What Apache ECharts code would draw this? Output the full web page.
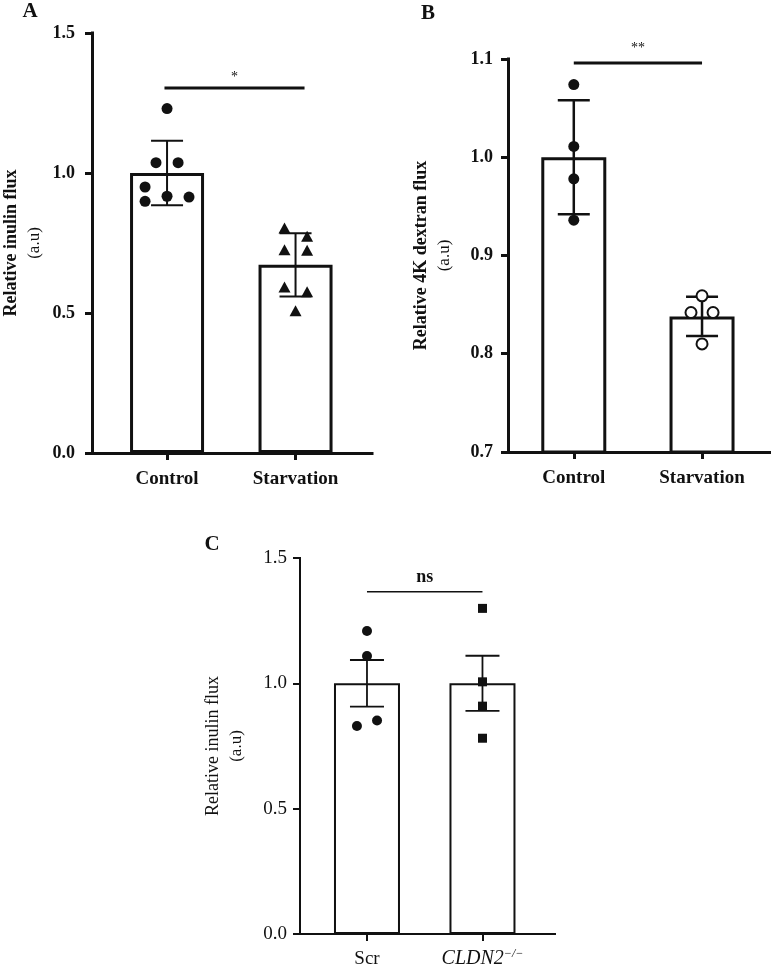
<!DOCTYPE html>
<html>
<head>
<meta charset="utf-8">
<script src="https://cdn.jsdelivr.net/npm/echarts@6/dist/echarts.min.js"></script>
<style>
html,body{margin:0;padding:0;background:#fff;}
#chart{width:771px;height:970px;}
</style>
</head>
<body>
<div id="chart"></div>
<script>
// ---------- DATA ----------
const catsAB = ['Control', 'Starvation'];
const catsC = ['Scr', 'CLDN2'];

// Panel A
const aTicks = [0, 1.5, 0.5];            // min, max, interval
const aMeans = [1.0, 0.672];
const aSD = [0.115, 0.113];
const aCtrlVals = [1.23, 1.037, 1.037, 0.95, 0.899, 0.917, 0.914];
const aCtrlJit = [0, -0.086, 0.086, -0.171, -0.171, 0, 0.171];
const aStarVals = [0.804, 0.774, 0.726, 0.724, 0.593, 0.576, 0.508];
const aStarJit = [-0.086, 0.09, -0.086, 0.09, -0.086, 0.09, 0];
const aSig = [0.98, 2.07, 1.304];
const aSigText = '*';

// Panel B
const bTicks = [0.7, 1.1, 0.1];
const bMeans = [1.0, 0.838];
const bSD = [0.058, 0.02];
const bCtrlVals = [1.074, 1.011, 0.978, 0.936];
const bCtrlJit = [0, 0, 0, 0];
const bStarVals = [0.859, 0.842, 0.842, 0.81];
const bStarJit = [0, -0.086, 0.086, 0];
const bSig = [1.0, 2.0, 1.096];
const bSigText = '**';

// Panel C
const cTicks = [0, 1.5, 0.5];
const cMeans = [1.0, 1.0];
const cSEM = [0.093, 0.11];
const cScrVals = [1.209, 1.109, 0.83, 0.852];
const cScrJit = [0, 0, -0.087, 0.087];
const cKoVals = [1.299, 1.006, 0.909, 0.781];
const cKoJit = [0, 0, 0, 0];
const cSig = [1.0, 2.0, 1.365];
const cSigText = 'ns';

// ---------- HELPERS ----------
const FONT = 'Liberation Serif';
const INK = '#111';

function pts(vals, jit, center) {
  return vals.map((v, i) => [center + jit[i], v]);
}
function errData(means, errs) {
  return means.map((m, i) => [i + 1, m - errs[i], m + errs[i]]);
}

function yAxisCfg(gi, ticks, lw, bold, nameGap, size, margin) {
  return {
    type: 'value', gridIndex: gi, min: ticks[0], max: ticks[1], interval: ticks[2],
    axisLine: { show: true, onZero: false, lineStyle: { color: INK, width: lw, cap: 'square' } },
    axisTick: { show: true, length: 7, lineStyle: { color: INK, width: lw } },
    splitLine: { show: false },
    axisLabel: {
      color: INK, fontFamily: FONT, fontSize: size, fontWeight: bold ? 'bold' : 'normal',
      margin: margin, formatter: v => v.toFixed(1)
    },
    name: gi === 1 ? '{a|Relative 4K dextran flux}\n{b|(a.u)}' : '{a|Relative inulin flux}\n{b|(a.u)}',
    nameLocation: 'middle', nameRotate: 90, nameGap: nameGap,
    nameTextStyle: {
      rich: {
        a: { fontFamily: FONT, fontSize: 18, fontWeight: bold ? 'bold' : 'normal', color: INK, lineHeight: 24 },
        b: { fontFamily: FONT, fontSize: 17, fontWeight: 'normal', color: INK, lineHeight: 24 }
      }
    }
  };
}

function xAxisCfg(gi, range, cats, lw, bold, rich, margin) {
  return {
    type: 'value', gridIndex: gi, min: range[0], max: range[1],
    axisLine: { show: true, onZero: false, lineStyle: { color: INK, width: lw, cap: 'square' } },
    axisTick: { show: true, length: 7, customValues: [1, 2], lineStyle: { color: INK, width: lw } },
    splitLine: { show: false },
    axisLabel: {
      customValues: [1, 2], margin: margin,
      color: INK, fontFamily: FONT, fontSize: 19, fontWeight: bold ? 'bold' : 'normal',
      formatter: v => rich ? (v === 1 ? '{n|' + cats[0] + '}' : '{i|' + cats[1] + '}{s|−/−}') : cats[Math.round(v) - 1],
      rich: rich ? {
        n: { fontFamily: FONT, fontSize: 19, color: INK, lineHeight: 22 },
        i: { fontFamily: FONT, fontSize: 20, fontStyle: 'italic', color: INK, lineHeight: 22 },
        s: { fontFamily: FONT, fontSize: 12, fontStyle: 'italic', color: INK, verticalAlign: 'top', lineHeight: 22, padding: [0, 0, 6, 0] }
      } : undefined
    }
  };
}

function barSeries(gi, means, width, lw) {
  return {
    type: 'bar', xAxisIndex: gi, yAxisIndex: gi, barWidth: width, clip: true, z: 2,
    data: means.map((m, i) => [i + 1, m]),
    itemStyle: { color: '#fff', borderColor: INK, borderWidth: lw },
    silent: true
  };
}

function errSeries(gi, data, lw, cap) {
  return {
    type: 'custom', xAxisIndex: gi, yAxisIndex: gi, z: 3, silent: true,
    encode: { x: 0, y: [1, 2] },
    data: data,
    renderItem: (params, api) => {
      const lo = api.coord([api.value(0), api.value(1)]);
      const hi = api.coord([api.value(0), api.value(2)]);
      const st = { stroke: INK, lineWidth: lw };
      return {
        type: 'group', children: [
          { type: 'line', shape: { x1: lo[0], y1: lo[1], x2: hi[0], y2: hi[1] }, style: st },
          { type: 'line', shape: { x1: hi[0] - cap, y1: hi[1], x2: hi[0] + cap, y2: hi[1] }, style: st },
          { type: 'line', shape: { x1: lo[0] - cap, y1: lo[1], x2: lo[0] + cap, y2: lo[1] }, style: st }
        ]
      };
    }
  };
}

function sigSeries(gi, sig, text, lw, fontSize, gap, bold) {
  return {
    type: 'custom', xAxisIndex: gi, yAxisIndex: gi, z: 3, silent: true,
    encode: { x: [0, 1], y: 2 },
    data: [sig],
    renderItem: (params, api) => {
      const a = api.coord([api.value(0), api.value(2)]);
      const b = api.coord([api.value(1), api.value(2)]);
      return {
        type: 'group', children: [
          { type: 'line', shape: { x1: a[0], y1: a[1], x2: b[0], y2: b[1] }, style: { stroke: INK, lineWidth: lw } },
          { type: 'text', x: (a[0] + b[0]) / 2, y: a[1] - gap,
            style: { text: text, fill: INK, fontFamily: FONT, fontSize: fontSize, fontWeight: bold ? 'bold' : 'normal',
                     textAlign: 'center', textVerticalAlign: 'middle' } }
        ]
      };
    }
  };
}

function scatterSeries(gi, data, symbol, size, empty) {
  return {
    type: 'scatter', xAxisIndex: gi, yAxisIndex: gi, z: 4, silent: true,
    symbol: symbol, symbolSize: size, data: data,
    itemStyle: empty ? { color: '#fff', borderColor: INK, borderWidth: 2, opacity: 1 } : { color: INK, opacity: 1 }
  };
}

// ---------- CHART ----------
const chart = echarts.init(document.getElementById('chart'), null, { renderer: 'canvas' });

const option = {
  backgroundColor: '#fff',
  animation: false,
  grid: [
    { left: 92, top: 33, width: 280, height: 420 },
    { left: 508, top: 59, width: 262, height: 393 },
    { left: 300, top: 558, width: 255, height: 376 }
  ],
  xAxis: [
    xAxisCfg(0, [0.416, 2.595], catsAB, 3, true, false, 17),
    xAxisCfg(1, [0.487, 2.53], catsAB, 3, true, false, 17),
    xAxisCfg(2, [0.42, 2.628], catsC, 2, false, true, 14)
  ],
  yAxis: [
    yAxisCfg(0, aTicks, 3, true, 45, 18, 17),
    yAxisCfg(1, bTicks, 3, true, 51, 18, 15),
    yAxisCfg(2, cTicks, 2, false, 51, 19, 13)
  ],
  graphic: [
    { type: 'text', x: 30, y: 12, style: { text: 'A', fill: INK, fontFamily: FONT, fontSize: 21, fontWeight: 'bold', textAlign: 'center', textVerticalAlign: 'middle' } },
    { type: 'text', x: 428, y: 14, style: { text: 'B', fill: INK, fontFamily: FONT, fontSize: 21, fontWeight: 'bold', textAlign: 'center', textVerticalAlign: 'middle' } },
    { type: 'text', x: 212, y: 545, style: { text: 'C', fill: INK, fontFamily: FONT, fontSize: 21, fontWeight: 'bold', textAlign: 'center', textVerticalAlign: 'middle' } }
  ],
  series: [
    // A
    barSeries(0, aMeans, 74, 3),
    errSeries(0, errData(aMeans, aSD), 2, 16),
    scatterSeries(0, pts(aCtrlVals, aCtrlJit, 1), 'circle', 11, false),
    scatterSeries(0, pts(aStarVals, aStarJit, 2), 'triangle', [12, 11], false),
    sigSeries(0, aSig, aSigText, 3, 14, 11, false),
    // B
    barSeries(1, bMeans, 65, 3),
    errSeries(1, errData(bMeans, bSD), 2.5, 16),
    scatterSeries(1, pts(bCtrlVals, bCtrlJit, 1), 'circle', 11, false),
    scatterSeries(1, pts(bStarVals, bStarJit, 2), 'circle', 11, true),
    sigSeries(1, bSig, bSigText, 3, 14, 15, false),
    // C
    barSeries(2, cMeans, 66, 2),
    errSeries(2, errData(cMeans, cSEM), 1.8, 17),
    scatterSeries(2, pts(cScrVals, cScrJit, 1), 'circle', 10, false),
    scatterSeries(2, pts(cKoVals, cKoJit, 2), 'rect', 9, false),
    sigSeries(2, cSig, cSigText, 1.5, 18, 14, true)
  ]
};
chart.setOption(option);
</script>
</body>
</html>
